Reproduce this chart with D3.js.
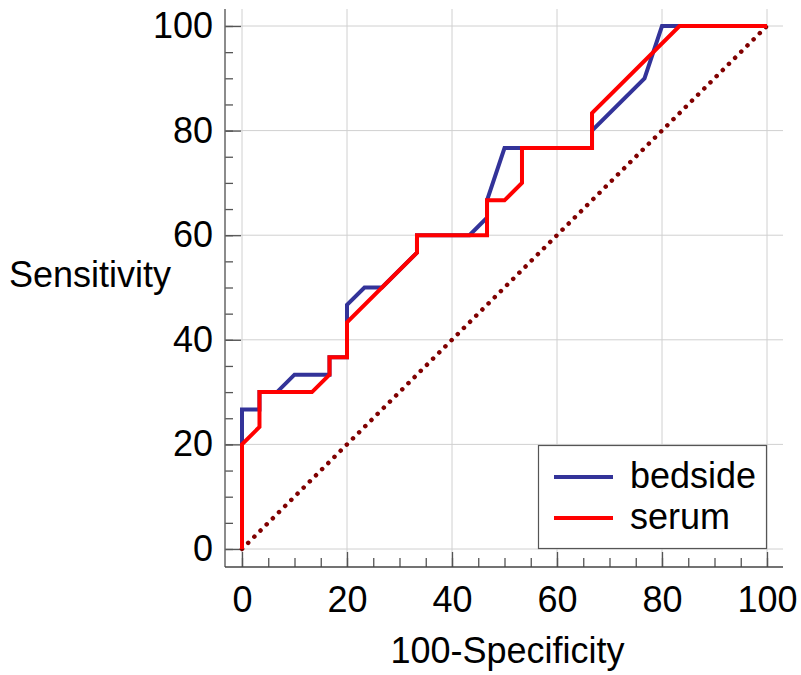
<!DOCTYPE html>
<html>
<head>
<meta charset="utf-8">
<script src="https://d3js.org/d3.v7.min.js"></script>
<style>
  body { margin: 0; background: #fff; }
  svg { display: block; font-family: "Liberation Sans", Arial, sans-serif; }
</style>
</head>
<body>
<svg></svg>
<script>
// ROC points, 100-Specificity (x) and Sensitivity (y), in percent
const bedsideX = [0, 0, 3.33, 3.33, 6.67, 10, 16.67, 16.67, 20, 20, 23.33, 26.67, 33.33, 33.33, 43.33, 46.67, 46.67, 50, 66.67, 66.67, 76.67, 80, 100];
const bedsideY = [0, 26.67, 26.67, 30, 30, 33.33, 33.33, 36.67, 36.67, 46.67, 50, 50, 56.67, 60, 60, 63.33, 66.67, 76.67, 76.67, 80, 90, 100, 100];
const serumX = [0, 0, 3.33, 3.33, 13.33, 16.67, 16.67, 20, 20, 33.33, 33.33, 46.67, 46.67, 50, 53.33, 53.33, 66.67, 66.67, 83.33, 100];
const serumY = [0, 20, 23.33, 30, 30, 33.33, 36.67, 36.67, 43.33, 56.67, 60, 60, 66.67, 66.67, 70, 76.67, 76.67, 83.33, 100, 100];

const seriesNames = ['bedside', 'serum'];
const seriesColors = ['#333399', '#ff0000'];
const majorTicks = [0, 20, 40, 60, 80, 100];
const minorTicks = d3.range(0, 101, 5);

const width = 801;
const height = 675;
const fontSize = 36;

const x = d3.scaleLinear().domain([0, 100]).range([242, 767]);
const y = d3.scaleLinear().domain([0, 100]).range([549, 26]);

const axisLeftX = 225;
const axisBottomY = 567;
const topY = 9;
const rightX = 783;

const svg = d3.select('svg')
    .attr('width', width)
    .attr('height', height);

// grid
svg.append('g').selectAll('line')
    .data(majorTicks)
    .enter().append('line')
    .attr('x1', function(d) { return x(d) })
    .attr('x2', function(d) { return x(d) })
    .attr('y1', topY)
    .attr('y2', axisBottomY)
    .style('stroke', '#d0d0d0')
    .style('stroke-width', 1);

svg.append('g').selectAll('line')
    .data(majorTicks)
    .enter().append('line')
    .attr('x1', axisLeftX)
    .attr('x2', rightX)
    .attr('y1', function(d) { return y(d) })
    .attr('y2', function(d) { return y(d) })
    .style('stroke', '#d0d0d0')
    .style('stroke-width', 1);

// axes: minor ticks, then major ticks with labels
function styleAxis(g) {
    g.select('.domain').remove();
    g.selectAll('line').style('stroke', '#555').style('stroke-width', 1.3);
    g.selectAll('text')
        .attr('font-size', fontSize)
        .attr('font-family', '"Liberation Sans", Arial, sans-serif')
        .attr('fill', '#000');
}

svg.append('g')
    .attr('transform', `translate(0, ${axisBottomY})`)
    .call(d3.axisBottom(x).tickValues(minorTicks).tickSize(-9).tickFormat(''))
    .call(styleAxis);
svg.append('g')
    .attr('transform', `translate(0, ${axisBottomY})`)
    .call(d3.axisBottom(x).tickValues(majorTicks).tickSize(-15).tickPadding(19))
    .call(styleAxis);

svg.append('g')
    .attr('transform', `translate(${axisLeftX}, 0)`)
    .call(d3.axisLeft(y).tickValues(minorTicks).tickSize(-8).tickFormat(''))
    .call(styleAxis);
svg.append('g')
    .attr('transform', `translate(${axisLeftX}, 0)`)
    .call(d3.axisLeft(y).tickValues(majorTicks).tickSize(-16).tickPadding(12))
    .call(styleAxis);

// axis lines
svg.append('line')
    .attr('x1', axisLeftX).attr('x2', axisLeftX)
    .attr('y1', topY).attr('y2', axisBottomY)
    .style('stroke', '#666').style('stroke-width', 1.5);
svg.append('line')
    .attr('x1', axisLeftX).attr('x2', rightX)
    .attr('y1', axisBottomY).attr('y2', axisBottomY)
    .style('stroke', '#444').style('stroke-width', 1.5);

// reference diagonal
svg.append('line')
    .attr('x1', x(0)).attr('y1', y(0))
    .attr('x2', x(100)).attr('y2', y(100))
    .style('stroke', '#800000')
    .style('stroke-width', 4.5)
    .style('stroke-linecap', 'round')
    .style('stroke-dasharray', '0.1 8.6');

// curves
const line = d3.line()
    .x(function(d) { return x(d[0]) })
    .y(function(d) { return y(d[1]) });

const curves = [d3.zip(bedsideX, bedsideY), d3.zip(serumX, serumY)];

svg.append('g').selectAll('path')
    .data(curves)
    .enter().append('path')
    .attr('d', line)
    .style('fill', 'none')
    .style('stroke', function(d, i) { return seriesColors[i] })
    .style('stroke-width', 4);

// legend
const legend = svg.append('g');
legend.append('rect')
    .attr('x', 538.5).attr('y', 445.5)
    .attr('width', 228).attr('height', 103)
    .style('fill', '#fff')
    .style('stroke', '#555')
    .style('stroke-width', 1.2);

const item = legend.selectAll('.item')
    .data(seriesNames)
    .enter().append('g')
    .attr('class', 'item')
    .attr('transform', function(d, i) { return `translate(0, ${477 + i * 41})` });

item.append('line')
    .attr('x1', 554).attr('x2', 613)
    .style('stroke', function(d, i) { return seriesColors[i] })
    .style('stroke-width', 4);

item.append('text')
    .attr('x', 630)
    .attr('y', 11)
    .attr('font-size', fontSize)
    .text(function(d) { return d });

// axis titles
svg.append('text')
    .attr('x', 9)
    .attr('y', 287)
    .attr('font-size', fontSize)
    .text('Sensitivity');

svg.append('text')
    .attr('x', (x(0) + x(100)) / 2 + 3)
    .attr('y', 663)
    .attr('text-anchor', 'middle')
    .attr('font-size', fontSize)
    .text('100-Specificity');
</script>
</body>
</html>
